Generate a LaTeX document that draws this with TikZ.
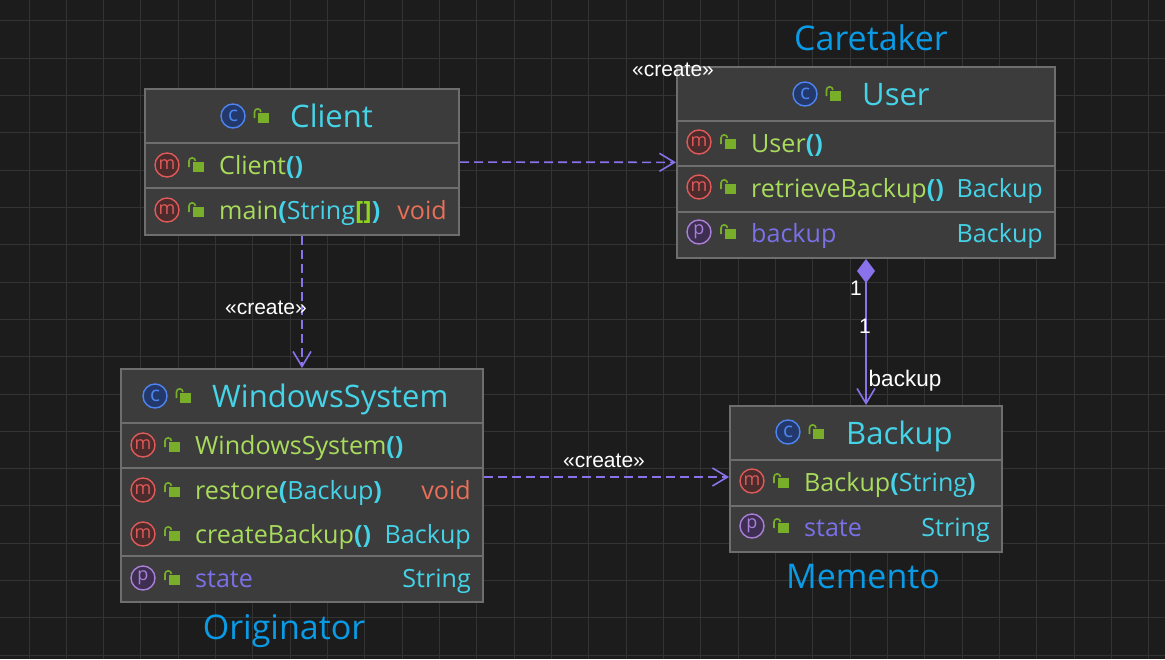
\documentclass[tikz,border=0pt]{standalone}
\usepackage{fontspec}
\setmainfont{Open Sans}
\newfontfamily\labelfont{Liberation Sans}
\usetikzlibrary{arrows.meta}

\definecolor{bgcol}{HTML}{1C1C1C}
\definecolor{gridcol}{HTML}{333333}
\definecolor{boxcol}{HTML}{3C3C3C}
\definecolor{edgecol}{HTML}{6E6E6E}
\definecolor{titlecol}{HTML}{45D3E8}
\definecolor{methodcol}{HTML}{A9DC5C}
\definecolor{voidcol}{HTML}{E86F58}
\definecolor{fieldcol}{HTML}{7A70E8}
\definecolor{arrowcol}{HTML}{8A72EA}
\definecolor{notecol}{HTML}{0A9BE6}
\definecolor{lockcol}{HTML}{78AE2A}
\definecolor{bracecol}{HTML}{8FD61E}
\definecolor{mline}{HTML}{E05A5A}
\definecolor{mfill}{HTML}{4A2C2C}
\definecolor{cline}{HTML}{4D84F0}
\definecolor{cfill}{HTML}{24396B}
\definecolor{pline}{HTML}{A97FD8}
\definecolor{pfill}{HTML}{3E2E52}

\tikzset{
  x=1pt,y=-1pt,
  classbox/.style={draw=edgecol,line width=2pt,fill=boxcol,inner sep=0pt,minimum width=#1},
  sepline/.style={draw=edgecol,line width=2pt},
  badge/.style={circle,line width=1.4pt,minimum size=24pt,inner sep=0pt},
  mbadge/.style={badge,draw=mline,fill=mfill,text=mline,font=\fontsize{18}{18}\selectfont},
  cbadge/.style={badge,draw=cline,fill=cfill,text=cline,font=\fontsize{21}{22}\selectfont},
  pbadge/.style={badge,draw=pline,fill=pfill,text=pline,font=\fontsize{18}{18}\selectfont},
  titletext/.style={anchor=base west,inner sep=0pt,text=titlecol,font=\fontsize{31}{34}\selectfont},
  rowtext/.style={anchor=base west,inner sep=0pt,text=methodcol,font=\fontsize{25.1}{28}\selectfont},
  typetext/.style={anchor=base east,inner sep=0pt,text=titlecol,font=\fontsize{25.1}{28}\selectfont},
  fieldtext/.style={rowtext,text=fieldcol},
  notetext/.style={anchor=base,inner sep=0pt,text=notecol,font=\fontsize{34}{36}\selectfont},
  linktext/.style={anchor=base,inner sep=0pt,text=white,font=\labelfont\fontsize{21}{23}\selectfont},
  depend/.style={draw=arrowcol,line width=1.6pt,dash pattern=on 9pt off 5pt,-{Straight Barb[length=15pt,width=18pt,line width=1.6pt]}},
  compose/.style={draw=arrowcol,line width=1.6pt,{Diamond[length=24pt,width=18pt,fill=arrowcol]}-{Straight Barb[length=15pt,width=18pt,line width=1.6pt]}},
  lock/.pic={
    \fill[lockcol] (-5.5,-5) rectangle (5.5,5);
    \draw[lockcol,line width=1.6pt] (-9,0) -- (-9,-6) arc (180:360:3.2);
  }
}
\newcommand{\boldp}[1]{{\bfseries\textcolor{titlecol}{#1}}}

\begin{document}
\begin{tikzpicture}
\useasboundingbox (0,0) rectangle (1165,659);
\fill[bgcol] (0,0) rectangle (1165,659);
\foreach \i in {0,...,31} \draw[gridcol,line width=1pt] (29+\i*37.33,0) -- (29+\i*37.33,659);
\foreach \i in {0,...,17} \draw[gridcol,line width=1pt] (0,20.7+\i*37.33) -- (1165,20.7+\i*37.33);

% class boxes
\node[classbox=314pt,minimum height=146pt] (client) at (302,162) {};
\node[classbox=378pt,minimum height=191pt] (user) at (866,162.5) {};
\node[classbox=362pt,minimum height=233pt] (windows) at (302,485.5) {};
\node[classbox=272pt,minimum height=146pt] (backup) at (866,479) {};

% compartment lines
\draw[sepline] (client.west |- 0,143) -- (client.east |- 0,143);
\draw[sepline] (client.west |- 0,188) -- (client.east |- 0,188);
\draw[sepline] (user.west |- 0,121) -- (user.east |- 0,121);
\draw[sepline] (user.west |- 0,166) -- (user.east |- 0,166);
\draw[sepline] (user.west |- 0,212) -- (user.east |- 0,212);
\draw[sepline] (windows.west |- 0,423) -- (windows.east |- 0,423);
\draw[sepline] (windows.west |- 0,468) -- (windows.east |- 0,468);
\draw[sepline] (windows.west |- 0,556) -- (windows.east |- 0,556);
\draw[sepline] (backup.west |- 0,460) -- (backup.east |- 0,460);
\draw[sepline] (backup.west |- 0,506) -- (backup.east |- 0,506);

% Client
\node[cbadge] (clientc) at (233,116) {c};
\pic at (263.5,118) {lock};
\node[titletext] (clientname) at (290,127) {Client};
\node[mbadge] (clientm1) at (167,165) {m};
\pic at (198,167) {lock};
\node[rowtext] (clientctor) at (219,174) {Client\boldp{()}};
\node[mbadge] (clientm2) at (167,210) {m};
\pic at (198,212) {lock};
\node[rowtext] (clientmain) at (219,219) {main\boldp{(}\textcolor{titlecol}{String}{\bfseries\textcolor{bracecol}{[]}}\boldp{)}};
\node[typetext,text=voidcol] (clientvoid) at (447,219) {void};

% User
\node[cbadge] (userc) at (805,94) {c};
\pic at (835.5,96) {lock};
\node[titletext] (username) at (862,105) {User};
\node[mbadge] (userm1) at (699,142) {m};
\pic at (730,144) {lock};
\node[rowtext] (userctor) at (751,152) {User\boldp{()}};
\node[mbadge] (userm2) at (699,187) {m};
\pic at (730,189) {lock};
\node[rowtext] (userget) at (751,197) {retrieveBackup\boldp{()}};
\node[typetext] (usergettype) at (1043,197) {Backup};
\node[pbadge] (userp) at (699,232) {p};
\pic at (730,234) {lock};
\node[fieldtext] (userfield) at (751,242) {backup};
\node[typetext] (userfieldtype) at (1043,242) {Backup};

% WindowsSystem
\node[cbadge] (windowsc) at (155,396) {c};
\pic at (185.5,398) {lock};
\node[titletext] (windowsname) at (212,407) {WindowsSystem};
\node[mbadge] (windowsm1) at (143,445) {m};
\pic at (174,447) {lock};
\node[rowtext] (windowsctor) at (195,454) {WindowsSystem\boldp{()}};
\node[mbadge] (windowsm2) at (143,490) {m};
\pic at (174,492) {lock};
\node[rowtext] (windowsrestore) at (195,499) {restore\boldp{(}\textcolor{titlecol}{Backup}\boldp{)}};
\node[typetext,text=voidcol] (windowsvoid) at (471,499) {void};
\node[mbadge] (windowsm3) at (143,534) {m};
\pic at (174,536) {lock};
\node[rowtext] (windowscreate) at (195,543) {createBackup\boldp{()}};
\node[typetext] (windowscreatetype) at (471,543) {Backup};
\node[pbadge] (windowsp) at (143,578) {p};
\pic at (174,580) {lock};
\node[fieldtext] (windowsfield) at (195,587) {state};
\node[typetext] (windowsfieldtype) at (471,587) {String};

% Backup
\node[cbadge] (backupc) at (788,432) {c};
\pic at (818.5,434) {lock};
\node[titletext] (backupname) at (846,444) {Backup};
\node[mbadge] (backupm) at (752,481) {m};
\pic at (783,483) {lock};
\node[rowtext] (backupctor) at (804,491) {Backup\boldp{(}\textcolor{titlecol}{String}\boldp{)}};
\node[pbadge] (backupp) at (752,526) {p};
\pic at (783,528) {lock};
\node[fieldtext] (backupfield) at (804,536) {state};
\node[typetext] (backupfieldtype) at (990,536) {String};

% connectors
\draw[depend] (client) -- (user);
\draw[depend] (client) -- (windows);
\coordinate (windowsout) at (windows.east |- 0,477);
\coordinate (backupin) at (backup.west |- 0,477);
\draw[depend] (windowsout) -- (backupin);
\draw[compose] (user) -- (backup);

% link labels
\node[linktext] (createa) at (673,76) {«create»};
\node[linktext] (createb) at (266,314) {«create»};
\node[linktext] (createc) at (604,467) {«create»};
\node[linktext] (onea) at (856,295) {1};
\node[linktext] (oneb) at (865,333) {1};
\node[linktext,font=\labelfont\fontsize{22.5}{24}\selectfont] (backuprole) at (905,386) {backup};

% pattern roles
\node[notetext] (caretaker) at (871,50) {Caretaker};
\node[notetext] (originator) at (284,639) {Originator};
\node[notetext] (memento) at (863,588) {Memento};
\end{tikzpicture}
\end{document}
